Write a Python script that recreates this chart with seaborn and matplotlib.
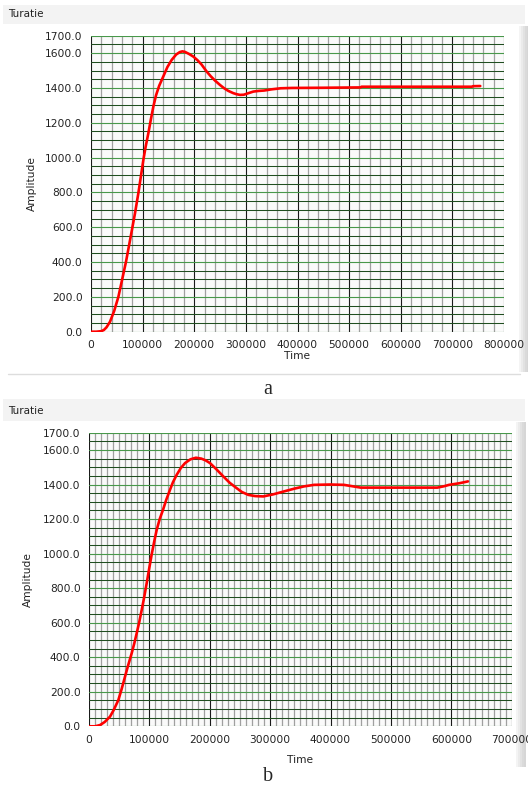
import numpy as np
import pandas as pd
import matplotlib
matplotlib.use('Agg')
import matplotlib.pyplot as plt
import seaborn as sns
from matplotlib.patches import Rectangle
from matplotlib.lines import Line2D

# Curve readings (time, amplitude) for both runs
time_a = [0, 10000, 20000, 25000, 30000, 36800, 45000, 53000, 60000, 67800, 76900,
          85200, 91700, 101400, 106000, 111100, 116000, 120800, 126000, 132000, 140200,
          148000, 156300, 165000, 172000, 177000, 182000, 190000, 198200, 206000, 214000,
          224100, 232000, 240000, 249900, 258000, 266000, 275700, 282000, 288600, 296000,
          305000, 314400, 325000, 335100, 350000, 367400, 390000, 450000, 522000, 524000,
          600000, 680000, 738000, 740000, 754000]
amp_a = [0, 0, 3, 10, 25, 57, 120, 200, 295, 402, 546,
         680, 795, 986, 1065, 1140, 1220, 1293, 1358, 1412, 1467,
         1520, 1561, 1592, 1606, 1610, 1607, 1595, 1580, 1560, 1535,
         1494, 1467, 1443, 1417, 1398, 1383, 1370, 1364, 1360, 1361,
         1370, 1379, 1383, 1385, 1392, 1398, 1400, 1401, 1403, 1407,
         1407, 1407, 1407, 1410, 1411]

time_b = [0, 10000, 18200, 26000, 34800, 41000, 48600, 54000, 59600, 65000, 70700,
          75000, 79000, 83000, 87200, 91000, 95500, 99500, 103800, 108000, 112100,
          117000, 123000, 128000, 134100, 139000, 145200, 152000, 159000, 168000, 177000,
          186000, 193000, 200400, 211000, 222400, 233000, 244500, 253000, 263800, 275000,
          288600, 305000, 322900, 340000, 356000, 372600, 400000, 422300, 436000, 450000,
          500000, 576800, 588000, 596200, 612700, 627600]
amp_b = [0, 0, 7, 25, 56, 95, 152, 215, 287, 355, 423,
         480, 539, 600, 672, 740, 828, 910, 995, 1070, 1137,
         1199, 1258, 1312, 1369, 1413, 1456, 1495, 1524, 1546, 1555,
         1550, 1540, 1524, 1488, 1447, 1410, 1379, 1357, 1340, 1333,
         1331, 1343, 1360, 1376, 1389, 1398, 1400, 1398, 1390, 1382,
         1382, 1382, 1390, 1398, 1407, 1418]

y_ticks = [0, 200, 400, 600, 800, 1000, 1200, 1400, 1600, 1700]

panels = [
    dict(df=pd.DataFrame({'Time': time_a, 'Amplitude': amp_a}), xmax=800000, xminor=20000,
         rect=[91, 35.7, 504, 331.7], band=(5, 24), title_y=14, strip=(519, 26, 372),
         caption='a', caption_y=394, sep=374, ylab_r=37, xlab_y=351),
    dict(df=pd.DataFrame({'Time': time_b, 'Amplitude': amp_b}), xmax=700000, xminor=10000,
         rect=[89, 432.7, 511.7, 726.3], band=(399, 421), title_y=410.5, strip=(516, 422, 767),
         caption='b', caption_y=781, sep=None, ylab_r=33, xlab_y=755),
]

W, H = 528, 787
sns.set_style('white')
plt.rcParams['font.family'] = ['DejaVu Sans']
fig = plt.figure(figsize=(W / 100, H / 100), dpi=100)
fig.patch.set_facecolor('white')

def fx(px):
    return px / W

def fy(py):
    return 1 - py / H

for p in panels:
    x0, y0, x1, y1 = p['rect']
    # title band
    b0, b1 = p['band']
    fig.patches.append(Rectangle((fx(3), fy(b1)), fx(522), (b1 - b0) / H, transform=fig.transFigure,
                                 facecolor='#f3f3f3', edgecolor='none', zorder=-5))
    fig.text(fx(8), fy(p['title_y']), 'Turatie', fontsize=7.5, va='center', ha='left', color='#222222')
    # right grey strip
    sx, st, sb = p['strip']
    for i, c in enumerate(['#f4f4f4', '#ebebeb', '#e2e2e2', '#dadada', '#d6d6d6']):
        fig.patches.append(Rectangle((fx(sx + i * 2), fy(sb)), fx(2), (sb - st) / H,
                                     transform=fig.transFigure, facecolor=c, edgecolor='none', zorder=-5))
    if p['sep']:
        fig.lines.append(Line2D([fx(8), fx(520)], [fy(p['sep']), fy(p['sep'])], transform=fig.transFigure,
                                color='#dddddd', lw=1, zorder=-5))
    fig.text(fx(268), fy(p['caption_y']), p['caption'], fontsize=14.5, ha='center', va='baseline',
             family=['Liberation Serif', 'DejaVu Serif'])

    ax = fig.add_axes([fx(x0), fy(y1), fx(x1 - x0), (y1 - y0) / H])
    ax.set_facecolor('#fafafa')
    sns.lineplot(data=p['df'], x='Time', y='Amplitude', ax=ax, color='#ff0000', lw=1.9,
                 zorder=5, estimator=None, sort=False)
    ax.set_xlim(0, p['xmax'])
    ax.set_ylim(0, 1700)

    ax.set_xticks(np.arange(0, p['xmax'] + 1, 100000))
    ax.set_xticks(np.arange(0, p['xmax'] + 1, p['xminor']), minor=True)
    ax.set_yticks(y_ticks)
    ax.set_yticks(np.arange(0, 1701, 50), minor=True)
    ax.set_xticklabels([str(int(v)) for v in np.arange(0, p['xmax'] + 1, 100000)])
    ax.set_yticklabels(['%.1f' % v for v in y_ticks])

    ax.tick_params(axis='both', which='major', direction='out', length=4, width=0.8,
                   color='#333333', labelsize=7.7, labelcolor='#222222', pad=2)
    ax.tick_params(axis='both', which='minor', length=0)

    ax.xaxis.grid(True, which='minor', color='#a0a0a0', lw=0.9, zorder=1)
    ax.xaxis.grid(True, which='major', color='#1a1a1a', lw=0.8, zorder=2)
    ax.yaxis.grid(True, which='minor', color='#1f4d1f', lw=0.75, zorder=2)
    ax.yaxis.grid(True, which='major', color='#48984a', lw=0.8, zorder=2)
    ax.set_axisbelow(True)
    for s in ax.spines.values():
        s.set_visible(False)

    ax.set_xlabel('Time', fontsize=7.7, color='#222222')
    ax.set_ylabel('Amplitude', fontsize=7.7, color='#222222')
    ax.xaxis.set_label_coords(0.5, (y1 - p['xlab_y']) / (y1 - y0))
    ax.yaxis.set_label_coords((p['ylab_r'] - x0) / (x1 - x0), 0.5)

fig.savefig('out.png', dpi=100)
